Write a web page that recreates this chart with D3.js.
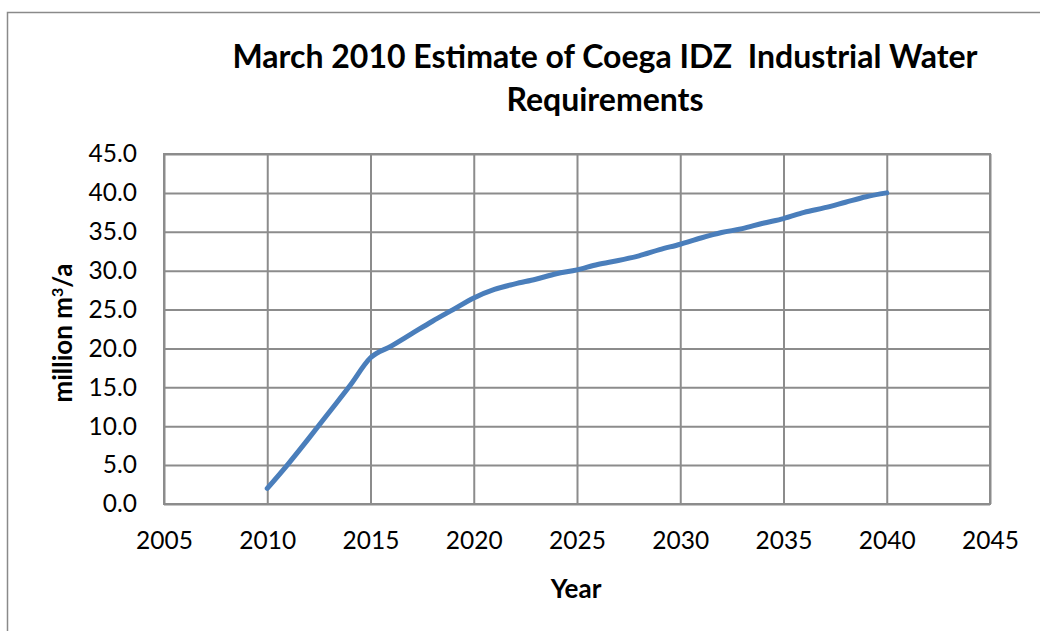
<!DOCTYPE html>
<html>
<head>
<meta charset="utf-8">
<script src="https://cdn.jsdelivr.net/npm/d3@7"></script>
<style>
  body { margin: 0; background: #fff; }
  svg text { font-family: Lato, "Open Sans", sans-serif; }
</style>
</head>
<body>
<svg id="chart" width="1040" height="631"></svg>
<script>
'use strict'

// data, one point per year
var years = [2010, 2011, 2012, 2013, 2014, 2015, 2016, 2017, 2018, 2019, 2020,
  2021, 2022, 2023, 2024, 2025, 2026, 2027, 2028, 2029, 2030,
  2031, 2032, 2033, 2034, 2035, 2036, 2037, 2038, 2039, 2040];
var demand = [2.0, 5.1, 8.4, 11.8, 15.2, 18.8, 20.3, 21.9, 23.5, 25.0, 26.5,
  27.6, 28.3, 28.9, 29.6, 30.1, 30.8, 31.3, 31.9, 32.7, 33.4,
  34.2, 34.9, 35.4, 36.1, 36.7, 37.5, 38.1, 38.8, 39.5, 40.0];
var xTicks = [2005, 2010, 2015, 2020, 2025, 2030, 2035, 2040, 2045];
var yTicks = [0, 5, 10, 15, 20, 25, 30, 35, 40, 45];
var titleLines = ['March 2010 Estimate of Coega IDZ\u00a0 Industrial Water', 'Requirements'];

var svg = d3.select('#chart');

var pLeft = 164, pTop = 154, pRight = 990, pBottom = 504;

var x = d3.scaleLinear()
  .domain([2005, 2045])
  .range([pLeft, pRight]);

var y = d3.scaleLinear()
  .domain([0, 45])
  .range([pBottom, pTop]);

// outer chart frame (right and bottom edge fall outside the picture)
svg.append('rect')
  .attr('x', 7.5)
  .attr('y', 12.5)
  .attr('width', 1100)
  .attr('height', 700)
  .attr('fill', 'none')
  .attr('stroke', '#8a8a8a')
  .attr('stroke-width', 1.5);

// title
svg.append('text')
  .attr('text-anchor', 'middle')
  .attr('font-weight', 'bold')
  .attr('font-size', 32)
  .attr('fill', '#000')
  .selectAll('tspan')
  .data(titleLines)
  .enter()
  .append('tspan')
  .attr('x', 605)
  .attr('y', function(d, i){ return 68 + i * 43; })
  .text(function(d){ return d; });

// gridlines + axes
var yAxis = d3.axisLeft(y)
  .tickValues(yTicks)
  .tickSize(-(pRight - pLeft))
  .tickPadding(27)
  .tickFormat(d3.format('.1f'));

var xAxis = d3.axisBottom(x)
  .tickValues(xTicks)
  .tickSize(-(pBottom - pTop))
  .tickPadding(28)
  .tickFormat(d3.format('d'));

var gy = svg.append('g')
  .attr('transform', 'translate(' + pLeft + ',0)')
  .call(yAxis);

var gx = svg.append('g')
  .attr('transform', 'translate(0,' + pBottom + ')')
  .call(xAxis);

[gx, gy].forEach(function(g){
  g.select('.domain').remove();
  g.selectAll('.tick line')
    .attr('stroke', '#8c8c8c')
    .attr('stroke-width', 2);
  g.selectAll('.tick text')
    .attr('font-size', 24.5)
    .attr('fill', '#000');
});

// plot border
svg.append('rect')
  .attr('x', pLeft)
  .attr('y', pTop)
  .attr('width', pRight - pLeft)
  .attr('height', pBottom - pTop)
  .attr('fill', 'none')
  .attr('stroke', '#8c8c8c')
  .attr('stroke-width', 2);

// the series
var line = d3.line()
  .x(function(d, i){ return x(years[i]); })
  .y(function(d){ return y(d); })
  .curve(d3.curveMonotoneX);

svg.append('path')
  .datum(demand)
  .attr('d', line)
  .attr('fill', 'none')
  .attr('stroke', '#4a7ebb')
  .attr('stroke-width', 5)
  .attr('stroke-linejoin', 'round')
  .attr('stroke-linecap', 'round');

// axis titles
svg.append('text')
  .attr('x', 576)
  .attr('y', 598)
  .attr('text-anchor', 'middle')
  .attr('font-weight', 'bold')
  .attr('font-size', 26)
  .text('Year');

var ylab = svg.append('text')
  .attr('transform', 'translate(72,333) rotate(-90)')
  .attr('text-anchor', 'middle')
  .attr('font-weight', 'bold')
  .attr('font-size', 26);
ylab.append('tspan').text('million m');
ylab.append('tspan').attr('font-size', 16).attr('dy', -9).text('3');
ylab.append('tspan').attr('dy', 9).text('/a');
</script>
</body>
</html>
